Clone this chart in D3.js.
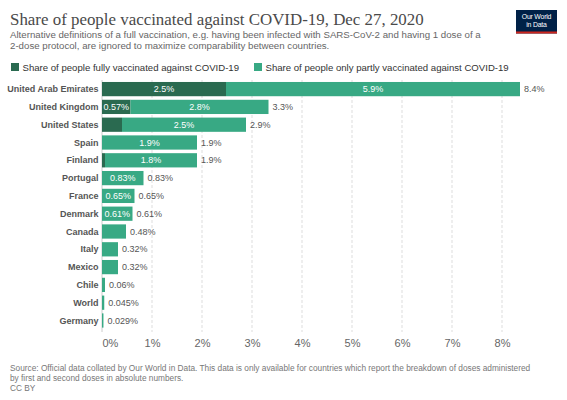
<!DOCTYPE html>
<html>
<head>
<meta charset="utf-8">
<script src="https://cdn.jsdelivr.net/npm/d3@7"></script>
<style>
  html, body { margin: 0; padding: 0; background: #fff; }
  svg { display: block; }
</style>
</head>
<body>
<svg id="chart" width="567" height="400" font-family="'Liberation Sans', Arial, sans-serif"></svg>
<script>
// Share of people vaccinated (percent)
const countries = ["United Arab Emirates", "United Kingdom", "United States", "Spain", "Finland",
    "Portugal", "France", "Denmark", "Canada", "Italy", "Mexico", "Chile", "World", "Germany"];
const fullyValues = [2.48, 0.57, 0.4, 0, 0.06, 0, 0, 0, 0, 0, 0, 0, 0, 0];
const partlyValues = [5.88, 2.76, 2.48, 1.9, 1.84, 0.83, 0.65, 0.61, 0.48, 0.32, 0.32, 0.06, 0.045, 0.029];
const xTicks = [0, 1, 2, 3, 4, 5, 6, 7, 8];
const seriesNames = ["Share of people fully vaccinated against COVID-19",
    "Share of people only partly vaccinated against COVID-19"];

const subtitleLines = [
    "Alternative definitions of a full vaccination, e.g. having been infected with SARS-CoV-2 and having 1 dose of a",
    "2-dose protocol, are ignored to maximize comparability between countries."
];
const footerLines = [
    "Source: Official data collated by Our World in Data. This data is only available for countries which report the breakdown of doses administered",
    "by first and second doses in absolute numbers.",
    "CC BY"
];

const COLOR_FULL = "#2a6a50";
const COLOR_PART = "#38a984";

const rows = countries.map((name, i) => ({
    name: name,
    fully: fullyValues[i],
    partly: partlyValues[i],
    total: fullyValues[i] + partlyValues[i]
}));

const fmt = d3.format(".2~r");
const svg = d3.select("#chart");

// Header
svg.append("text")
    .attr("x", 10).attr("y", 24.5)
    .attr("font-family", "'Liberation Serif', 'Times New Roman', serif")
    .attr("font-size", "16.9px")
    .attr("fill", "#4a4a4a")
    .text("Share of people vaccinated against COVID-19, Dec 27, 2020");

svg.selectAll(".subtitle")
    .data(subtitleLines)
    .enter().append("text")
    .attr("class", "subtitle")
    .attr("x", 10)
    .attr("y", (d, i) => 37.8 + i * 11)
    .attr("font-size", "9.7px")
    .attr("fill", "#666")
    .text(d => d);

// Logo
const logo = svg.append("g").attr("transform", "translate(516,10)");
logo.append("rect").attr("width", 41).attr("height", 23.5).attr("fill", "#002147");
logo.append("rect").attr("y", 21.5).attr("width", 41).attr("height", 2).attr("fill", "#ce261e");
logo.selectAll("text")
    .data(["Our World", "in Data"])
    .enter().append("text")
    .attr("x", 20.5)
    .attr("y", (d, i) => 8.6 + i * 8.4)
    .attr("text-anchor", "middle")
    .attr("font-size", "6.9px")
    .attr("letter-spacing", "-0.2px")
    .attr("fill", "#fff")
    .text(d => d);

// Legend
const legend = svg.append("g").attr("transform", "translate(11,63)");
const legendX = [0, 243];
seriesNames.forEach((name, i) => {
    const g = legend.append("g").attr("transform", `translate(${legendX[i]},0)`);
    g.append("rect").attr("width", 8).attr("height", 8)
        .attr("fill", i === 0 ? COLOR_FULL : COLOR_PART);
    g.append("text")
        .attr("x", 11.5).attr("y", 7.5)
        .attr("font-size", "9.6px")
        .attr("fill", "#333")
        .text(name);
});

// Scales
const x = d3.scaleLinear().domain([0, 8.4]).range([102, 522]);
const y = d3.scaleBand()
    .domain(countries)
    .range([80.2, 80.2 + 14 * 17.8])
    .paddingInner(0.2)
    .paddingOuter(0.1);

// Grid
const grid = svg.append("g");
grid.selectAll("line")
    .data(xTicks.slice(1))
    .enter().append("line")
    .attr("x1", d => x(d)).attr("x2", d => x(d))
    .attr("y1", 80).attr("y2", 332)
    .attr("stroke", "#ddd")
    .attr("stroke-dasharray", "3,2");
grid.append("line")
    .attr("x1", x(0)).attr("x2", x(0))
    .attr("y1", 80).attr("y2", 332)
    .attr("stroke", "#ccc");

// Axis labels
const xAxis = d3.axisBottom(x).tickValues(xTicks).tickSize(0).tickFormat(d => d + "%");
const axisG = svg.append("g")
    .attr("transform", "translate(0,334)")
    .call(xAxis);
axisG.select(".domain").remove();
axisG.selectAll("text")
    .attr("font-family", "'Liberation Sans', Arial, sans-serif")
    .attr("font-size", "11px")
    .attr("fill", "#666")
    .attr("dy", "0.95em")
    .attr("text-anchor", d => d === 0 ? "start" : "middle");

// Bars
const rowG = svg.selectAll(".row")
    .data(rows)
    .enter().append("g")
    .attr("class", "row")
    .attr("transform", d => `translate(0,${y(d.name)})`);

const bh = y.bandwidth();

rowG.append("text")
    .attr("x", 98.5).attr("y", bh / 2)
    .attr("dy", "0.35em")
    .attr("text-anchor", "end")
    .attr("font-size", "9px")
    .attr("font-weight", "bold")
    .attr("fill", "#555")
    .text(d => d.name);

rowG.append("rect")
    .attr("x", x(0))
    .attr("width", d => x(d.fully) - x(0))
    .attr("height", bh)
    .attr("fill", COLOR_FULL);

rowG.append("rect")
    .attr("x", d => x(d.fully))
    .attr("width", d => x(d.fully + d.partly) - x(d.fully))
    .attr("height", bh)
    .attr("fill", COLOR_PART);

// Segment labels, only where they fit
function segLabel(sel, start, value) {
    sel.append("text")
        .attr("x", d => (x(start(d)) + x(start(d) + value(d))) / 2)
        .attr("y", bh / 2)
        .attr("dy", "0.35em")
        .attr("text-anchor", "middle")
        .attr("font-size", "9px")
        .attr("fill", "#fff")
        .text(d => value(d) > 0 ? fmt(value(d)) + "%" : "")
        .each(function (d) {
            const w = this.getComputedTextLength();
            if (w + 2 > x(start(d) + value(d)) - x(start(d))) d3.select(this).remove();
        });
}
segLabel(rowG, d => 0, d => d.fully);
segLabel(rowG, d => d.fully, d => d.partly);

rowG.append("text")
    .attr("x", d => x(d.total) + 4)
    .attr("y", bh / 2)
    .attr("dy", "0.35em")
    .attr("font-size", "9px")
    .attr("fill", "#555")
    .text(d => fmt(d.total) + "%");

// Footer
svg.selectAll(".footer")
    .data(footerLines)
    .enter().append("text")
    .attr("class", "footer")
    .attr("x", 10)
    .attr("y", (d, i) => 371 + i * 10)
    .attr("font-size", "8.3px")
    .attr("fill", "#777")
    .text(d => d);
</script>
</body>
</html>
